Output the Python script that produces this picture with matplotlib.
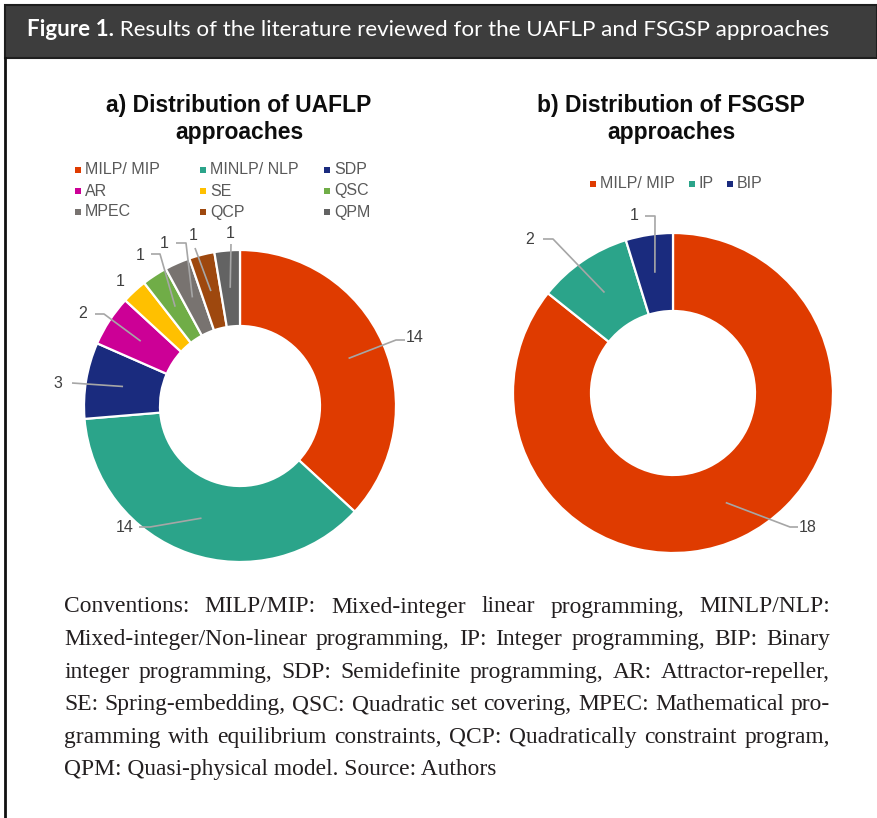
import matplotlib
matplotlib.use("Agg")
import numpy as np
import matplotlib.pyplot as plt
from matplotlib.patches import Rectangle

# ---------------- data ----------------
UAFLP_LABELS = ["MILP/ MIP", "MINLP/ NLP", "SDP", "AR", "SE", "QSC", "MPEC", "QCP", "QPM"]
UAFLP_VALUES = [14, 14, 3, 2, 1, 1, 1, 1, 1]
FSGSP_LABELS = ["MILP/ MIP", "IP", "BIP"]
FSGSP_VALUES = [18, 2, 1]

UAFLP_COLORS = ["#DF3B00", "#2BA48A", "#1A2B7E", "#CC0096", "#FFC000",
                "#70AD47", "#787370", "#9E480E", "#636363"]
FSGSP_COLORS = ["#DF3B00", "#2BA48A", "#1A2B7E"]

HEADER_BOLD = "Figure 1."
HEADER_TEXT = " Results of the literature reviewed for the UAFLP and FSGSP approaches"
TITLE_A = "a) Distribution of UAFLP\napproaches"
TITLE_B = "b) Distribution of FSGSP\napproaches"
CAPTION_LINES = [
    "Conventions: MILP/MIP: Mixed-integer linear programming, MINLP/NLP:",
    "Mixed-integer/Non-linear programming, IP: Integer programming, BIP: Binary",
    "integer programming, SDP: Semidefinite programming, AR: Attractor-repeller,",
    "SE: Spring-embedding, QSC: Quadratic set covering, MPEC: Mathematical pro-",
    "gramming with equilibrium constraints, QCP: Quadratically constraint program,",
    "QPM: Quasi-physical model. Source: Authors",
]

# ---------------- layout (image pixels, y down) ----------------
W, H = 877, 818
fig = plt.figure(figsize=(W / 100, H / 100), dpi=100)
ax = fig.add_axes([0, 0, 1, 1])


def Y(y):
    return H - y


# label text position + elbow points for the leader lines (image px)
LAB_A = [((415, 338), [(396, 340), (405, 340)]),
         ((125, 527), [(150, 527), (139, 527)]),
         ((58, 383), [(72, 383)]),
         ((83, 314), [(104, 314), (95, 314)]),
         ((120, 281), None),
         ((140, 255), [(160, 254), (151, 254)]),
         ((164, 244), [(186, 243), (176, 243)]),
         ((193, 236), [(195, 248)]),
         ((230, 233), [(231, 244)])]
LAB_B = [((808, 528), [(790, 527), (798, 527)]),
         ((530, 240), [(553, 239), (543, 239)]),
         ((634, 216), [(655, 216), (645, 216)])]


def donut(values, colors, cx, cy, R, hole, labels_pos):
    wedges, _ = ax.pie(values, colors=colors, startangle=90, counterclock=False,
                       center=(cx, Y(cy)), radius=R,
                       wedgeprops=dict(width=R - hole, edgecolor="white", linewidth=1.6))
    for w, v, (tp, elbow) in zip(wedges, values, labels_pos):
        mid = np.deg2rad((w.theta1 + w.theta2) / 2)
        sx = cx + 0.76 * R * np.cos(mid)
        sy = Y(cy) + 0.76 * R * np.sin(mid)
        if elbow:
            xs = [sx] + [p[0] for p in elbow]
            ys = [sy] + [Y(p[1]) for p in elbow]
            ax.plot(xs, ys, color="#A6A6A6", lw=1.2, solid_capstyle="butt")
        ax.text(tp[0], Y(tp[1]), str(v), ha="center", va="center",
                fontsize=11.5, color="#404040", family="Liberation Sans")


donut(UAFLP_VALUES, UAFLP_COLORS, 240, 406, 156, 80, LAB_A)
donut(FSGSP_VALUES, FSGSP_COLORS, 673, 393, 160, 82, LAB_B)

ax.set_xlim(0, W)
ax.set_ylim(0, H)
ax.set_aspect("auto")
ax.axis("off")

# titles
for t, x in [(TITLE_A, 239), (TITLE_B, 671)]:
    ax.text(x, Y(119), t, ha="center", va="center", fontsize=16.5, fontweight="bold",
            family="Liberation Sans", color="#0D0D0D", linespacing=1.25)

# legends (drawn by hand, row-major as in the original)
leg_cols = [78, 203, 327]
leg_rows = [170, 191, 212]
for i, (lab, col) in enumerate(zip(UAFLP_LABELS, UAFLP_COLORS)):
    x = leg_cols[i % 3]
    y = leg_rows[i // 3]
    ax.scatter([x], [Y(y)], marker="s", s=22, color=col, linewidths=0)
    ax.text(x + 7, Y(y), lab, ha="left", va="center", fontsize=11.5,
            color="#595959", family="Liberation Sans")
for x, lab, col in zip([593, 692, 730], FSGSP_LABELS, FSGSP_COLORS):
    ax.scatter([x], [Y(184)], marker="s", s=22, color=col, linewidths=0)
    ax.text(x + 7, Y(184), lab, ha="left", va="center", fontsize=11.5,
            color="#595959", family="Liberation Sans")

# header band and frame
ax.add_patch(Rectangle((5, Y(58)), W - 5, 53, facecolor="#3D3D3D",
                       edgecolor="#1E1E1E", lw=1.5, zorder=0))
ax.plot([5, 5], [Y(58), 0], color="#111111", lw=2)

renderer = fig.canvas.get_renderer()


def width_of(s, **kw):
    t = ax.text(0, 0, s, **kw)
    w = t.get_window_extent(renderer).width
    t.remove()
    return w


# header text, scaled to its original width
hdr_font = "Lato"
w_hdr = width_of(HEADER_BOLD, fontsize=10, fontweight="bold", family=hdr_font) + \
    width_of(HEADER_TEXT, fontsize=10, family=hdr_font)
hsize = 10 * 801 / w_hdr
ax.text(27, Y(30), HEADER_BOLD, fontsize=hsize, fontweight="bold",
        family=hdr_font, color="white", va="center", ha="left")
wb = width_of(HEADER_BOLD, fontsize=hsize, fontweight="bold", family=hdr_font)
ax.text(27 + wb, Y(30), HEADER_TEXT, fontsize=hsize, family=hdr_font,
        color="white", va="center", ha="left")

# caption, justified between x=64 and x=830
cap_font = "Liberation Serif"
left, right = 64, 830
nat = max(width_of(l, fontsize=10, family=cap_font) for l in CAPTION_LINES[:-1])
csize = 10 * (right - left - 6) / nat
line_y = np.linspace(607, 770, len(CAPTION_LINES))
for i, (line, y) in enumerate(zip(CAPTION_LINES, line_y)):
    if i == len(CAPTION_LINES) - 1:
        ax.text(left, Y(y), line, fontsize=csize, family=cap_font,
                color="#231F20", va="center", ha="left")
        continue
    words = line.split(" ")
    ww = [width_of(wd, fontsize=csize, family=cap_font) for wd in words]
    gap = (right - left - sum(ww)) / (len(words) - 1)
    x = left
    for wd, w in zip(words, ww):
        ax.text(x, Y(y), wd, fontsize=csize, family=cap_font,
                color="#231F20", va="center", ha="left")
        x += w + gap

fig.savefig("out.png", dpi=100, facecolor="white")
